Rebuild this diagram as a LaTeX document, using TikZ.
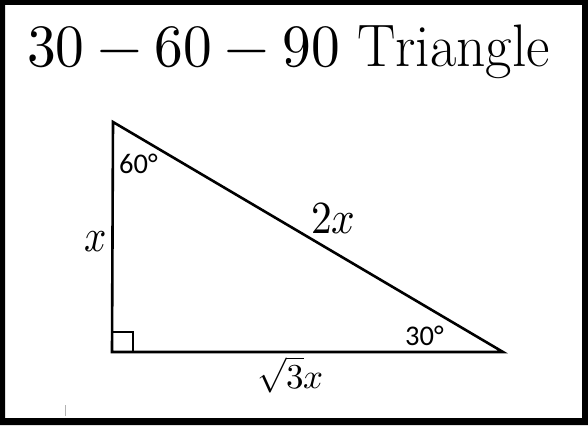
\documentclass[tikz,border=0pt]{standalone}
\usepackage{fontspec}
\usepackage{unicode-math}
\setmathfont{Latin Modern Math}
\newfontfamily\calibri{Carlito}
\usepackage{graphicx}
\begin{document}
\begin{tikzpicture}[x=1pt,y=-1pt,
  lbl/.style={inner sep=0pt,anchor=base west},
  side/.style={line width=2.6pt,line join=miter},
  deg/.style={lbl,font=\calibri\fontsize{28.5}{30}\selectfont}]
\useasboundingbox (0,0) rectangle (588,425);
% frame
\fill[black,even odd rule] (0,0) rectangle (588,425) (5,5) rectangle (582,418);
% title
\node[lbl] (title) at (27,67) {\fontsize{60}{60}\selectfont\scalebox{0.957}[1]{$30 - 60 - 90\ \mathrm{Triangle}$}};
% triangle
\coordinate (A) at (113,122);
\coordinate (C) at (112,352);
\coordinate (B) at (503,352);
\draw[side] (A) -- (B) -- (C) -- cycle;
% right angle mark
\draw[line width=1.8pt] (112,332) -- (133,332) -- (133,352);
% angle labels
\node[deg] (a60) at (119,173) {60°};
\node[deg] (a30) at (405,345) {30°};
% side labels
\node[lbl] (sx) at (84,251) {\fontsize{46}{46}\selectfont\scalebox{0.85}[1]{$x$}};
\node[lbl] (s2x) at (311,233) {\fontsize{46}{46}\selectfont\scalebox{0.9}[1]{$2x$}};
\node[lbl] (s3x) at (257,388) {\fontsize{35}{35}\selectfont$\sqrt{3}x$};
% stray mark
\draw[gray!60,line width=0.6pt] (65,405) -- (65,416);
\end{tikzpicture}
\end{document}
